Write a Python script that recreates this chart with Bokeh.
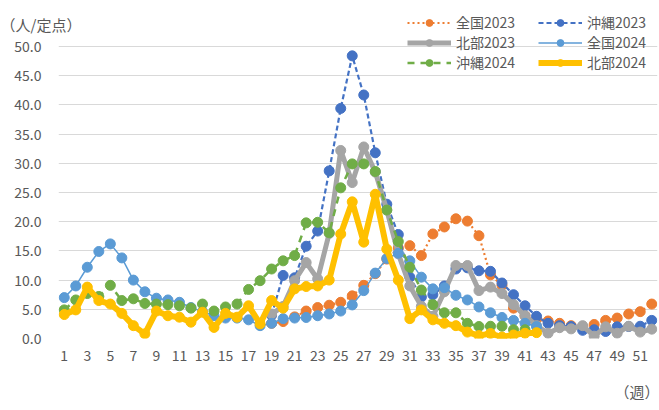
from bokeh.plotting import figure
from bokeh.models import Range1d, FixedTicker, NumeralTickFormatter, Legend, LegendItem, Label
from bokeh.embed import file_html
from bokeh.resources import INLINE

NAN = float("nan")

weeks = list(range(1, 53))
x_ticks = list(range(1, 52, 2))
y_ticks = [0, 5, 10, 15, 20, 25, 30, 35, 40, 45, 50]

# 2023 series start at week 19
zenkoku2023 = [NAN] * 18 + [2.6, 2.9, 3.7, 4.7, 5.3, 5.7, 6.2, 7.3, 9.1, 11.1, 13.6, 15.5,
                            15.9, 14.2, 17.9, 19.1, 20.5, 20.1, 17.6, 10.9, 9.1, 5.2, 3.9, 3.3,
                            3.0, 2.6, 2.2, 2.0, 2.4, 3.1, 3.5, 4.2, 4.6, 5.9]
okinawa2023 = [NAN] * 18 + [4.0, 10.8, 10.4, 15.8, 18.4, 28.7, 39.4, 48.4, 41.7, 31.8, 23.0, 17.8,
                            10.5, 7.1, 7.5, 9.0, 11.9, 12.1, 11.6, 11.5, 9.5, 7.5, 5.6, 3.8,
                            2.6, 2.2, 2.05, 1.4, 1.5, 1.2, 2.0, 2.05, 2.1, 3.1]
hokubu2023 = [NAN] * 18 + [4.2, 5.5, 9.9, 13.0, 10.2, 18.0, 32.2, 26.7, 32.8, 28.5, 22.0, 14.5,
                           9.0, 5.5, 3.8, 8.0, 12.5, 12.5, 8.2, 8.8, 7.7, 5.8, 3.9, 2.2,
                           0.9, 1.85, 1.65, 2.2, 0.4, 2.0, 0.9, 2.1, 1.1, 1.6]
zenkoku2024 = [7.0, 9.0, 12.2, 14.9, 16.2, 13.8, 10.0, 8.0, 6.9, 6.6, 6.2, 5.3, 4.6, 3.9,
               3.5, 3.5, 3.2, 2.2, 2.6, 3.4, 3.5, 3.6, 3.9, 4.2, 4.7, 5.75, 8.2, 11.2,
               13.7, 14.6, 13.3, 10.5, 8.5, 8.7, 7.4, 6.6, 5.4, 4.4, 3.6, 3.1, 2.6, 2.05] + [NAN] * 10
okinawa2024 = [4.9, 6.6, 7.7, 7.2, 9.1, 6.5, 6.8, 6.0, 5.9, 5.8, 5.6, 5.2, 5.9, 4.7,
               5.4, 5.9, 8.4, 9.9, 11.9, 13.3, 14.2, 19.8, 19.9, 18.1, 25.8, 29.9, 29.9, 28.6,
               22.0, 16.6, 12.2, 8.3, 5.8, 4.4, 4.4, 2.6, 2.05, 2.1, 2.1, 1.5, 1.5] + [NAN] * 11
hokubu2024 = [4.1, 4.9, 8.8, 6.5, 5.9, 4.3, 2.2, 0.8, 4.7, 3.9, 3.65, 2.8, 4.5, 1.9,
              4.3, 3.65, 5.6, 2.5, 6.5, 5.2, 8.5, 8.9, 9.0, 10.0, 17.9, 23.4, 16.5, 24.7,
              15.3, 10.0, 3.4, 4.9, 3.2, 2.6, 2.2, 1.1, 0.5, 0.85, 0.25, 0.6, 0.9, 1.0] + [NAN] * 10

series_names = ["全国2023", "沖縄2023", "北部2023", "全国2024", "沖縄2024", "北部2024"]
series_values = [zenkoku2023, okinawa2023, hokubu2023, zenkoku2024, okinawa2024, hokubu2024]

styles = [
    dict(color="#ED7D31", width=2.2, dash="2 3"),
    dict(color="#4472C4", width=2.2, dash="5 3"),
    dict(color="#A5A5A5", width=5, dash="solid"),
    dict(color="#5B9BD5", width=1.5, dash="solid"),
    dict(color="#70AD47", width=2.5, dash="7 6"),
    dict(color="#FFC000", width=6, dash="solid"),
]

FONT = "Noto Sans CJK JP"
TXT = "#595959"

# frame: x 58..657, y 0..338 (0.0 at 338, 50.0 at ~46)
p = figure(width=659, height=410, output_backend="svg", toolbar_location=None,
           x_range=Range1d(0.5, 52.5), y_range=Range1d(0, 57.88),
           min_border_left=58, min_border_right=2, min_border_top=0, min_border_bottom=72)
p.outline_line_color = None
p.background_fill_color = "white"
p.border_fill_alpha = 0

p.xgrid.grid_line_color = None
p.ygrid.grid_line_color = "#D9D9D9"
p.ygrid.grid_line_width = 1
p.ygrid.ticker = FixedTicker(ticks=y_ticks)

p.xaxis.ticker = FixedTicker(ticks=x_ticks)
p.yaxis.ticker = FixedTicker(ticks=y_ticks)
p.yaxis.formatter = NumeralTickFormatter(format="0.0")
for ax in (p.xaxis[0], p.yaxis[0]):
    ax.axis_line_color = None
    ax.major_tick_line_color = None
    ax.minor_tick_line_color = None
    ax.major_tick_out = 0
    ax.major_tick_in = 0
    ax.major_label_text_font = FONT
    ax.major_label_text_font_size = "14px"
    ax.major_label_text_color = TXT
p.xaxis.major_label_standoff = 11
p.yaxis.major_label_standoff = 17

renderers = []
for name, vals, st in zip(series_names, series_values, styles):
    lr = p.line(weeks, vals, line_color=st["color"], line_width=st["width"], line_dash=st["dash"])
    sr = p.scatter(weeks, vals, size=10, fill_color=st["color"], line_color=st["color"])
    renderers.append((name, [lr, sr]))

def make_legend(items, x, y):
    lg = Legend(items=[LegendItem(label=n, renderers=r) for n, r in items],
                location=(x, y), orientation="vertical",
                glyph_width=44, glyph_height=17, label_height=17, spacing=-3,
                padding=0, margin=0, label_standoff=5,
                label_text_font=FONT, label_text_font_size="14px", label_text_color=TXT,
                border_line_color=None, background_fill_alpha=0)
    p.add_layout(lg, "center")

make_legend([renderers[0], renderers[2], renderers[4]], 349, 266)
make_legend([renderers[1], renderers[3], renderers[5]], 480, 266)

# texts outside the plot area, placed in the panel below the x axis
p.add_layout(Label(x=601, y=-7, x_units="screen", y_units="screen", text="（週）",
                   text_font=FONT, text_font_size="15px", text_color=TXT,
                   text_baseline="middle", text_align="right"), "below")
p.add_layout(Label(x=-58, y=381, x_units="screen", y_units="screen", text="（人/定点）",
                   text_font=FONT, text_font_size="15px", text_color=TXT,
                   text_baseline="middle", text_align="left"), "below")

open("out.html", "w").write(file_html(p, INLINE))
